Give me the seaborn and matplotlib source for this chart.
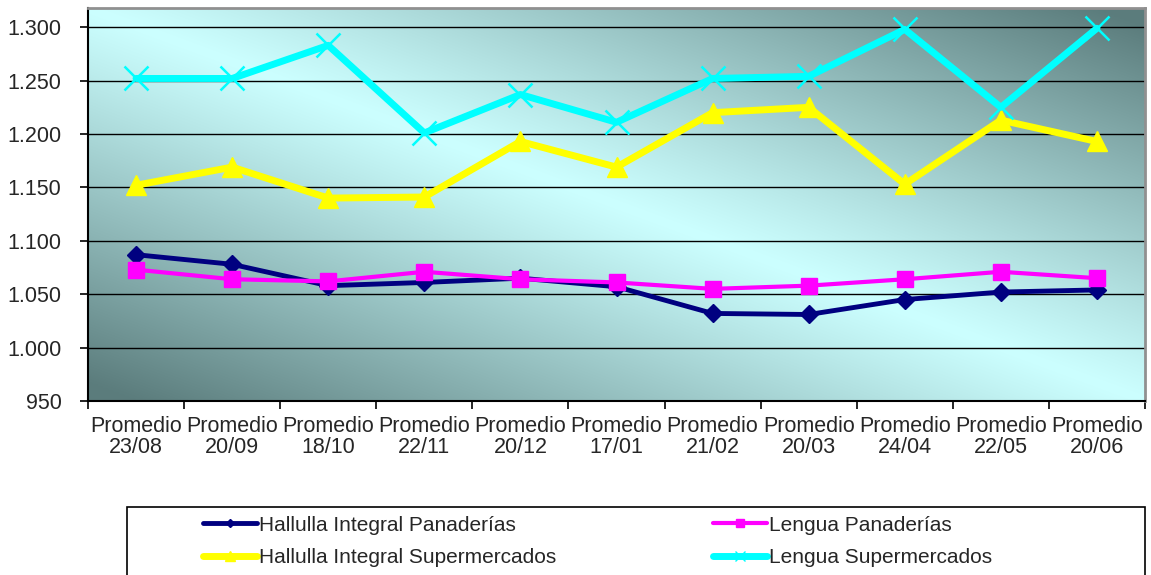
# IMPORT

import matplotlib
matplotlib.use("Agg")
import matplotlib.pyplot as plt
import matplotlib.ticker as mticker
from matplotlib.patches import Rectangle
from matplotlib.lines import Line2D
import seaborn as sns
import numpy as np
import pandas as pd

# DATA

fechas = ["23/08", "20/09", "18/10", "22/11", "20/12", "17/01",
          "21/02", "20/03", "24/04", "22/05", "20/06"]
etiquetas = ["Promedio\n" + f for f in fechas]

hallulla_panaderias = [1087, 1078, 1058, 1061, 1065, 1057, 1032, 1031, 1045, 1052, 1054]
lengua_panaderias = [1073, 1064, 1062, 1071, 1064, 1061, 1055, 1058, 1064, 1071, 1065]
hallulla_super = [1152, 1169, 1140, 1141, 1193, 1169, 1220, 1225, 1153, 1213, 1193]
lengua_super = [1252, 1252, 1283, 1201, 1237, 1211, 1252, 1254, 1298, 1225, 1299]

series = ["Hallulla Integral Panaderías", "Lengua Panaderías",
          "Hallulla Integral Supermercados", "Lengua Supermercados"]
valores = [hallulla_panaderias, lengua_panaderias, hallulla_super, lengua_super]

# STYLE per series: color, marker, markersize, linewidth, mew
estilos = {
    "Lengua Supermercados": ("#00FFFF", "x", 17, 5.0, 1.8),
    "Hallulla Integral Supermercados": ("#FFFF00", "^", 15, 5.0, 1.0),
    "Lengua Panaderías": ("#FF00FF", "s", 12, 3.0, 1.0),
    "Hallulla Integral Panaderías": ("#000080", "D", 9, 3.5, 1.0),
}

sns.set_theme(style="white")
plt.rcParams['font.family'] = ['Liberation Sans', 'DejaVu Sans']

fig = plt.figure(figsize=(11.51, 5.75), dpi=100)
ax = fig.add_axes([88 / 1151, 1 - 401 / 575, (1145 - 88) / 1151, (401 - 8) / 575])

## BACKGROUND GRADIENT (diagonal, light along top-left -> bottom-right)
gx, gy = np.meshgrid(np.linspace(0, 1, 400), np.linspace(0, 1, 200))
d = np.clip(np.abs(gx - gy) * 1.05, 0, 1) ** 1.1
claro = np.array([0.80, 1.00, 1.00])
oscuro = np.array([0.36, 0.49, 0.49])
img = claro[None, None, :] * (1 - d[..., None]) + oscuro[None, None, :] * d[..., None]
ax.imshow(img, extent=[0, 1, 0, 1], transform=ax.transAxes, aspect="auto",
          zorder=0, interpolation="bilinear")

## GRID
for yv in range(1000, 1301, 50):
    ax.axhline(yv, color="black", lw=1.0, zorder=1)

## LINES
orden = ["Hallulla Integral Panaderías", "Lengua Panaderías",
         "Hallulla Integral Supermercados", "Lengua Supermercados"]
for nombre in orden:
    df = pd.DataFrame({"x": list(range(len(fechas))), "y": valores[series.index(nombre)]})
    c, m, ms, lw, mew = estilos[nombre]
    sns.lineplot(data=df, x="x", y="y", ax=ax, color=c, lw=lw, marker=m,
                 markersize=ms, markeredgecolor=c, markerfacecolor=c,
                 markeredgewidth=mew, zorder=3, legend=False)

## AXES
ax.set_xlim(-0.5, len(fechas) - 0.5)
ax.set_ylim(950, 1318)
ax.set_yticks(range(950, 1301, 50))
ax.yaxis.set_major_formatter(mticker.FuncFormatter(
    lambda v, p: f"{int(v):,}".replace(",", ".")))
ax.set_xticks(np.arange(-0.5, len(fechas), 1.0))
ax.set_xticklabels([])
ax.set_xticks(range(len(fechas)), minor=True)
ax.set_xticklabels(etiquetas, minor=True)
ax.tick_params(axis="x", which="minor", length=0, pad=11, labelsize=15.5)
ax.tick_params(axis="x", which="major", length=6, width=1.2, color="black", direction="out")
ax.tick_params(axis="y", length=6, width=1.2, color="black", direction="out",
               labelsize=15.5, pad=13)
ax.tick_params(axis="both", bottom=True, left=True)
for lab in ax.get_xticklabels(minor=True):
    lab.set_linespacing(1.0)
ax.set_xlabel("")
ax.set_ylabel("")
ax.spines["left"].set_color("black")
ax.spines["bottom"].set_color("black")
ax.spines["left"].set_linewidth(1.5)
ax.spines["bottom"].set_linewidth(1.5)
ax.spines["top"].set_color("#909090")
ax.spines["right"].set_color("#909090")
ax.spines["top"].set_linewidth(2)
ax.spines["right"].set_linewidth(2)

## LEGEND (box cut by the bottom edge)
fig.patches.append(Rectangle((127 / 1151, -0.05), (1145 - 127) / 1151, 1 - 507 / 575 + 0.05,
                             transform=fig.transFigure, facecolor="white",
                             edgecolor="black", lw=1.2, zorder=0))
handles = []
for nombre in series:
    c, m, ms, lw, mew = estilos[nombre]
    handles.append(Line2D([], [], color=c, lw=lw, marker=m, markersize=ms * 0.45,
                          markeredgecolor=c, markerfacecolor=c))
leg = fig.legend(handles=[handles[0], handles[2], handles[1], handles[3]],
                 labels=[series[0], series[2], series[1], series[3]],
                 ncol=2, loc="upper left", bbox_to_anchor=(184 / 1151, 1 - 497 / 575),
                 frameon=False, fontsize=15, handlelength=2.6, handletextpad=0.1,
                 columnspacing=7.5, labelspacing=0.65)

plt.savefig("out.png", dpi=100)
